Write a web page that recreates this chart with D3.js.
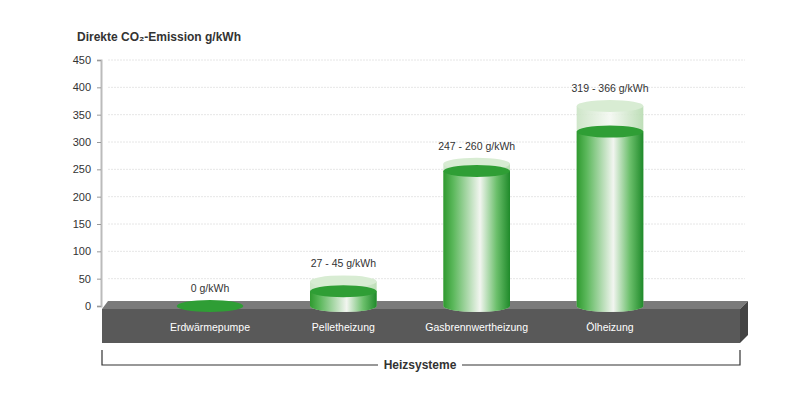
<!DOCTYPE html><html><head><meta charset="utf-8"><script src="https://cdn.jsdelivr.net/npm/d3@7"></script>
<style>body{margin:0;background:#fff}text{font-family:"Liberation Sans",Arial,sans-serif}</style></head><body><svg id="c" width="800" height="400"></svg>
<script>
const categories=["Erdwärmepumpe","Pelletheizung","Gasbrennwertheizung","Ölheizung"];
const lowValues=[0,27,247,319];
const highValues=[0,45,260,366];
const rangeLabels=["0 g/kWh","27 - 45 g/kWh","247 - 260 g/kWh","319 - 366 g/kWh"];
const yTicks=[0,50,100,150,200,250,300,350,400,450];
const svg=d3.select("#c");
const y=d3.scaleLinear().domain([0,450]).range([306,60]);
const x=d3.scaleBand().domain(categories).range([110,710]).padding(0.5);
const defs=svg.append("defs");
const g1=defs.append("linearGradient").attr("id","cyl");
[[0,"#2f9a2f"],[0.15,"#5cb85c"],[0.55,"#f2f5f0"],[0.8,"#6bbf6b"],[1,"#1f8a2a"]].forEach(s=>g1.append("stop").attr("offset",s[0]).attr("stop-color",s[1]));
const g2=defs.append("linearGradient").attr("id","cylL");
[[0,"#c9e3c3"],[0.5,"#f4f8f2"],[1,"#b7dbb0"]].forEach(s=>g2.append("stop").attr("offset",s[0]).attr("stop-color",s[1]));
svg.append("g").selectAll("line").data(yTicks.slice(1)).join("line").attr("x1",108).attr("x2",745).attr("y1",d=>y(d)).attr("y2",d=>y(d)).attr("stroke","#e6e6e6").attr("stroke-dasharray","2,1");
const ax=svg.append("g").attr("transform","translate(101,0)").call(d3.axisLeft(y).tickValues(yTicks).tickSize(4).tickPadding(6));
ax.select(".domain").attr("stroke","#bbb").attr("stroke-width",2);
ax.selectAll(".tick line").attr("stroke","#999");
ax.selectAll("text").attr("font-size",11).attr("fill","#333");
svg.append("text").attr("x",77).attr("y",41).attr("font-size",12).attr("font-weight","bold").attr("fill","#333").text("Direkte CO₂-Emission g/kWh");
svg.append("polygon").attr("points","102,309 740,309 748,301 108,301").attr("fill","#7a7a7a");
svg.append("polygon").attr("points","740,309 748,301 748,335 740,343").attr("fill","#444");
svg.append("rect").attr("x",102).attr("y",309).attr("width",638).attr("height",34).attr("fill","#595959");
svg.append("g").selectAll("text").data(categories).join("text").attr("x",d=>x(d)+x.bandwidth()/2).attr("y",331).attr("text-anchor","middle").attr("font-size",10.5).attr("fill","#fff").text(d=>d);
const ry=6,base=y(0);
categories.forEach((c,i)=>{
  const w=x.bandwidth(),x0=x(c),cx=x0+w/2;
  const g=svg.append("g");
  if(highValues[i]===0){g.append("ellipse").attr("cx",cx).attr("cy",base).attr("rx",w/2).attr("ry",ry).attr("fill","#2f9e35");}
  else{
  const yl=y(lowValues[i]),yh=y(highValues[i]);
  g.append("path").attr("d",`M${x0},${yh}L${x0},${base}A${w/2},${ry} 0 0 0 ${x0+w},${base}L${x0+w},${yh}Z`).attr("fill","url(#cylL)").attr("opacity",0.9);
  g.append("ellipse").attr("cx",cx).attr("cy",yh).attr("rx",w/2).attr("ry",ry).attr("fill","#d8ecd3");
  g.append("path").attr("d",`M${x0},${yl}L${x0},${base}A${w/2},${ry} 0 0 0 ${x0+w},${base}L${x0+w},${yl}Z`).attr("fill","url(#cyl)");
  g.append("ellipse").attr("cx",cx).attr("cy",yl).attr("rx",w/2).attr("ry",ry).attr("fill","#2f9e35");
  }
  svg.append("text").attr("x",cx).attr("y",y(highValues[i])-14).attr("text-anchor","middle").attr("font-size",10.5).attr("fill","#333").text(rangeLabels[i]);
});
svg.append("path").attr("d","M102,350V365H378M462,365H740V350").attr("fill","none").attr("stroke","#333").attr("stroke-width",1.2);
svg.append("text").attr("x",420).attr("y",369).attr("text-anchor","middle").attr("font-size",12).attr("font-weight","bold").attr("fill","#333").text("Heizsysteme");
</script></body></html>
